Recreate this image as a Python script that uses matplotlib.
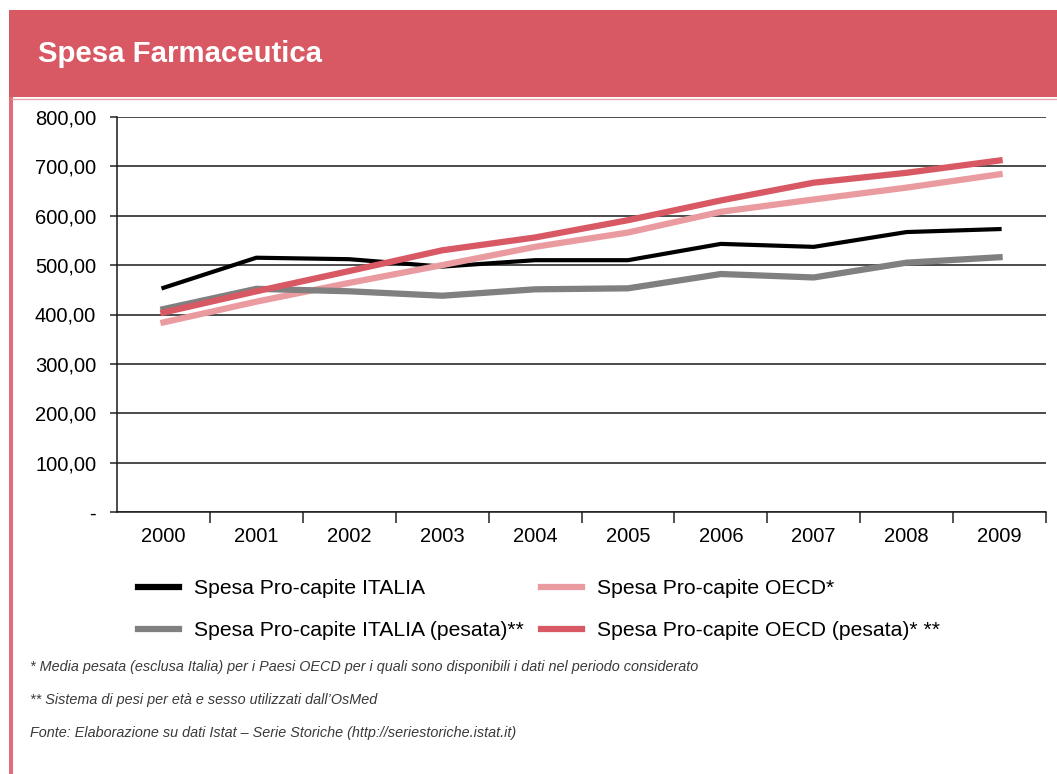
import matplotlib
matplotlib.use("Agg")
import matplotlib.pyplot as plt
from matplotlib.patches import Rectangle
from matplotlib.lines import Line2D
from matplotlib.ticker import FixedLocator, FuncFormatter

plt.rcParams['font.family'] = ['Liberation Sans', 'DejaVu Sans']

# ---- data ----
years = ["2000", "2001", "2002", "2003", "2004", "2005", "2006", "2007", "2008", "2009"]
italia = [454, 515, 512, 497, 510, 510, 543, 537, 567, 573]
oecd = [384, 426, 464, 500, 537, 566, 608, 633, 657, 684]
italia_pesata = [411, 452, 447, 438, 451, 453, 482, 475, 505, 516]
oecd_pesata = [404, 447, 488, 530, 556, 591, 631, 667, 687, 712]
y_ticks = [0, 100, 200, 300, 400, 500, 600, 700, 800]

title = "Spesa Farmaceutica"
labels = ["Spesa Pro-capite ITALIA", "Spesa Pro-capite OECD*",
          "Spesa Pro-capite ITALIA (pesata)**", "Spesa Pro-capite OECD (pesata)* **"]
notes = ["* Media pesata (esclusa Italia) per i Paesi OECD per i quali sono disponibili i dati nel periodo considerato",
         "** Sistema di pesi per età e sesso utilizzati dall’OsMed",
         "Fonte: Elaborazione su dati Istat – Serie Storiche (http://seriestoriche.istat.it)"]

W, H = 1057, 774
fig = plt.figure(figsize=(W / 100, H / 100), dpi=100)
fig.patch.set_facecolor('white')

def fx(x):
    return x / W

def fy(y):
    return 1 - y / H

RED = '#d85864'
PINK = '#e99ba0'
GRAY = '#808080'

# header band
fig.add_artist(Rectangle((fx(9), fy(97)), fx(W) - fx(9), fy(10) - fy(97),
                         transform=fig.transFigure, facecolor=RED, edgecolor='none', zorder=0))
# thin line below header
fig.add_artist(Line2D([fx(12), 1], [fy(98.5), fy(98.5)], transform=fig.transFigure,
                      color='#eaa3aa', lw=1.0))
# left border
fig.add_artist(Rectangle((fx(9), 0), fx(3.5), fy(97),
                         transform=fig.transFigure, facecolor='#e06c78', edgecolor='none', zorder=0))
fig.text(fx(38), fy(62), title, color='white', fontsize=21.2, fontweight='bold',
         ha='left', va='baseline')

# ---- axes ----
ax = fig.add_axes([fx(117), fy(512), fx(1046) - fx(117), fy(117) - fy(512)])
x = list(range(len(years)))
l1, = ax.plot(x, italia, color='black', lw=3.0, zorder=3)
l2, = ax.plot(x, oecd, color=PINK, lw=4.5, zorder=4)
l3, = ax.plot(x, italia_pesata, color=GRAY, lw=4.5, zorder=5)
l4, = ax.plot(x, oecd_pesata, color=RED, lw=4.5, zorder=6)

ax.set_xlim(-0.5, len(years) - 0.5)
ax.set_ylim(0, 800)
ax.xaxis.set_major_locator(FixedLocator([i + 0.5 for i in range(len(years))]))
ax.xaxis.set_major_formatter(FuncFormatter(lambda v, p: ""))
ax.xaxis.set_minor_locator(FixedLocator(x))
ax.set_xticklabels(years, minor=True)
ax.tick_params(axis='x', which='major', direction='out', length=8, width=1.1, color='#222222')
ax.tick_params(axis='x', which='minor', length=0, pad=11, labelsize=14.5)

ax.yaxis.set_major_locator(FixedLocator(y_ticks))
ax.yaxis.set_major_formatter(FuncFormatter(
    lambda v, p: "-" if v == 0 else f"{v:.2f}".replace('.', ',')))
ax.tick_params(axis='y', direction='out', length=5, width=1.1, pad=10, labelsize=14.5,
               color='#222222')
ax.yaxis.grid(True, color='#1a1a1a', lw=1.1)
ax.set_axisbelow(True)
for s in ['top', 'right']:
    ax.spines[s].set_visible(False)
for s in ['left', 'bottom']:
    ax.spines[s].set_color('#1a1a1a')
    ax.spines[s].set_linewidth(1.1)

# ---- legend (two columns placed separately) ----
def mk(c):
    return Line2D([], [], color=c, lw=4.5)

LEG_KW = dict(loc='upper left', frameon=False, fontsize=15.2, handlelength=1.95,
              handletextpad=0.68, labelspacing=1.1, borderpad=0, borderaxespad=0)
leg1 = fig.legend([mk('black'), mk(GRAY)], [labels[0], labels[2]],
                  bbox_to_anchor=(fx(138), fy(579)), **LEG_KW)
leg2 = fig.legend([mk(PINK), mk(RED)], [labels[1], labels[3]],
                  bbox_to_anchor=(fx(541), fy(579)), **LEG_KW)

# ---- notes ----
for txt, yy in zip(notes, [667, 700, 733]):
    fig.text(fx(30), fy(yy), txt, fontsize=10.35, style='italic', color='#3a3a3a',
             ha='left', va='center')

fig.savefig('out.png', dpi=100)
